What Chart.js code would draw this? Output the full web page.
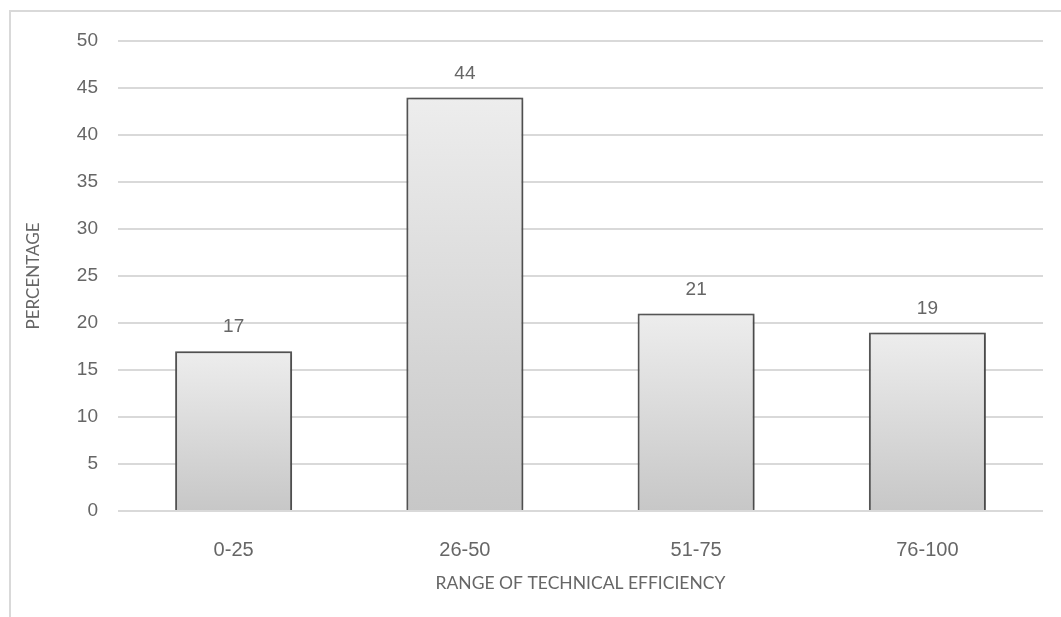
<!DOCTYPE html>
<html>
<head>
<meta charset="utf-8">
<script src="https://cdn.jsdelivr.net/npm/chart.js@4.4.1/dist/chart.umd.min.js"></script>
<style>
  html, body { margin: 0; padding: 0; background: #ffffff; }
  body { width: 1061px; height: 617px; position: relative; overflow: hidden; }
  #frame {
    position: absolute; left: 9px; top: 10px; width: 1100px; height: 700px;
    border-left: 2px solid #d9d9d9; border-top: 2px solid #d9d9d9;
  }
  #wrap { position: absolute; left: 0; top: 0; width: 1061px; height: 617px; }
</style>
</head>
<body>
<div id="frame"></div>
<div id="wrap"><canvas id="chart"></canvas></div>
<script>
// Share of farms in each technical-efficiency band
const categories = ['0-25', '26-50', '51-75', '76-100'];
const percentages = [17, 44, 21, 19];
const yTicks = [0, 5, 10, 15, 20, 25, 30, 35, 40, 45, 50];

const TEXT = '#666666';
const TICK_FONT = 'Liberation Sans, Arial, sans-serif';
const TITLE_FONT = 'Lato, Liberation Sans, sans-serif';

// Vertical grey gradient per bar, running from its top down to the base line
function barGradient(ctx) {
  const chart = ctx.chart;
  const area = chart.chartArea;
  if (!area || ctx.type !== 'data') return '#dcdcdc';
  const y = chart.scales.y;
  const top = y.getPixelForValue(ctx.raw);
  const base = y.getPixelForValue(0);
  const g = chart.ctx.createLinearGradient(0, top, 0, base);
  g.addColorStop(0, '#ededed');
  g.addColorStop(1, '#c7c7c7');
  return g;
}

// Soft shadow behind the bars
const barShadow = {
  id: 'barShadow',
  beforeDatasetDraw(chart) {
    const c = chart.ctx;
    c.save();
    c.shadowColor = 'rgba(0,0,0,0.35)';
    c.shadowBlur = 5;
    c.shadowOffsetX = 1;
    c.shadowOffsetY = 1;
  },
  afterDatasetDraw(chart) {
    chart.ctx.restore();
  }
};

// Value labels above each bar
const valueLabels = {
  id: 'valueLabels',
  afterDatasetsDraw(chart) {
    const c = chart.ctx;
    const meta = chart.getDatasetMeta(0);
    c.save();
    c.font = '19px ' + TICK_FONT;
    c.fillStyle = TEXT;
    c.textAlign = 'center';
    c.textBaseline = 'middle';
    meta.data.forEach((bar, i) => {
      c.fillText(String(percentages[i]), bar.x, bar.y - 24);
    });
    c.restore();
  }
};

new Chart(document.getElementById('chart'), {
  type: 'bar',
  data: {
    labels: categories,
    datasets: [{
      data: percentages,
      backgroundColor: barGradient,
      borderColor: '#595959',
      borderWidth: 2,
      barPercentage: 0.506,
      categoryPercentage: 1.0
    }]
  },
  options: {
    responsive: true,
    maintainAspectRatio: false,
    animation: false,
    layout: { padding: { left: 0, right: 18, top: 41, bottom: 0 } },
    plugins: {
      legend: { display: false },
      tooltip: { enabled: false }
    },
    scales: {
      x: {
        grid: { display: false, drawTicks: false },
        border: { display: false },
        ticks: {
          color: TEXT,
          font: { family: TICK_FONT, size: 20 },
          padding: 27
        },
        title: {
          display: true,
          text: 'RANGE OF TECHNICAL EFFICIENCY',
          color: TEXT,
          font: { family: TITLE_FONT, size: 17.5 },
          padding: { top: 0, bottom: 23 }
        },
        afterFit(scale) { scale.height = 106; }
      },
      y: {
        min: 0,
        max: 50,
        afterBuildTicks(scale) { scale.ticks = yTicks.map(v => ({ value: v })); },
        grid: { color: '#d9d9d9', lineWidth: 2, drawTicks: false },
        border: { display: false },
        ticks: {
          color: TEXT,
          font: { family: TICK_FONT, size: 19 },
          padding: 20
        },
        title: {
          display: true,
          text: 'PERCENTAGE',
          color: TEXT,
          font: { family: TITLE_FONT, size: 17 },
          padding: { top: 23, bottom: 0 }
        },
        afterFit(scale) { scale.width = 118; }
      }
    }
  },
  plugins: [barShadow, valueLabels]
});
</script>
</body>
</html>
